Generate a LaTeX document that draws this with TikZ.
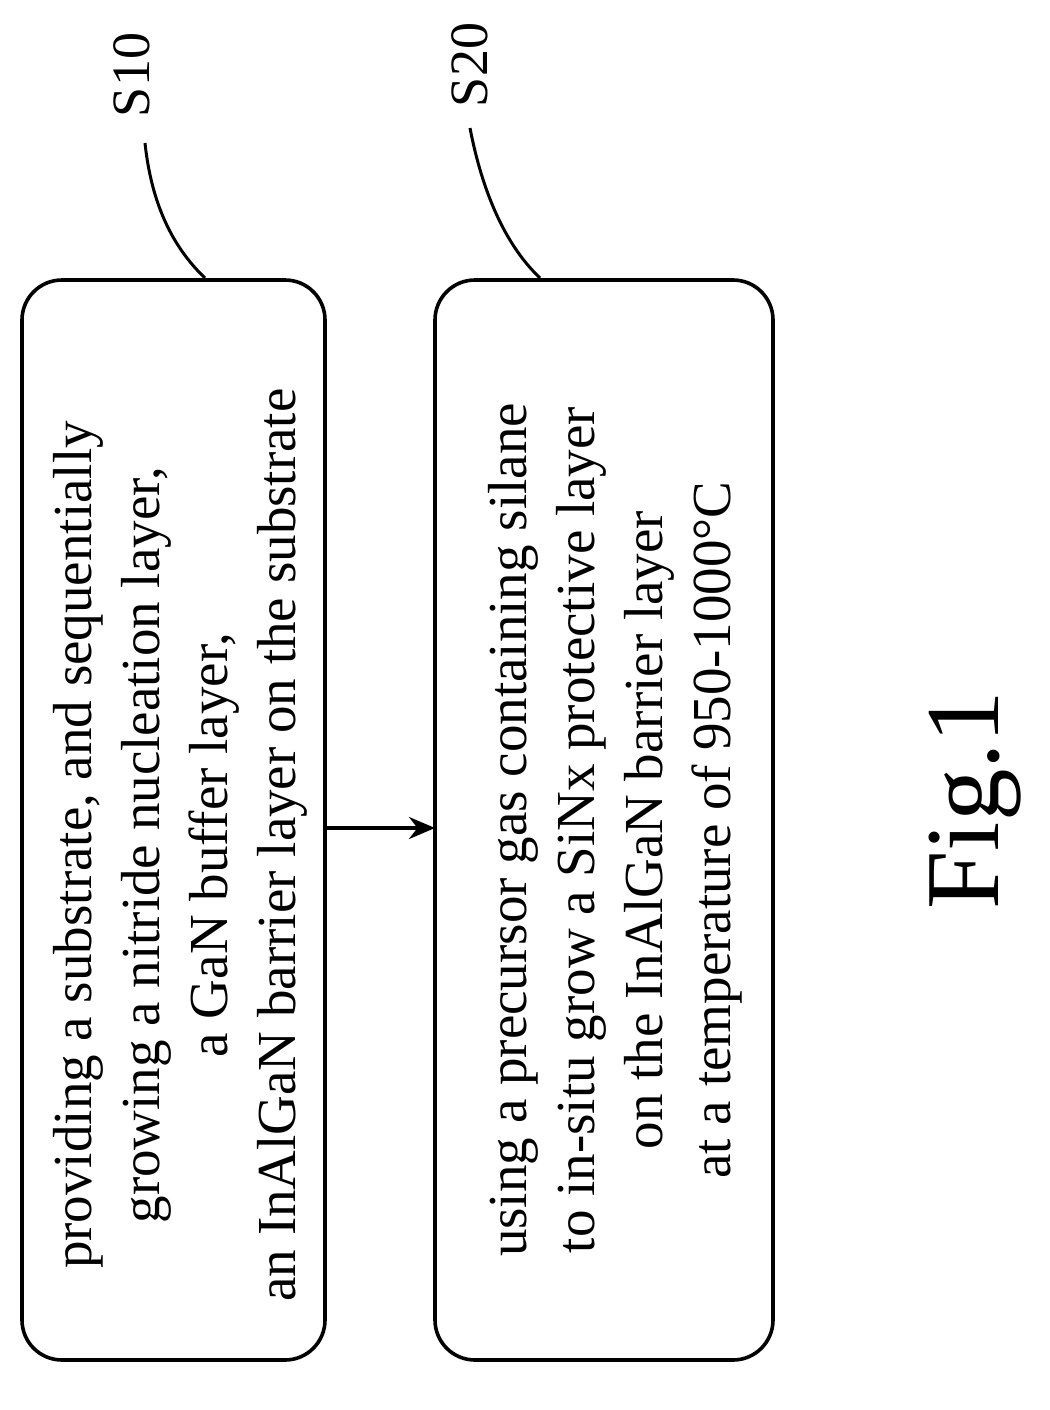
\documentclass[tikz,border=0pt]{standalone}
\usepackage{fontspec}
\setmainfont{Liberation Serif}
\usetikzlibrary{arrows.meta}
\begin{document}
\begin{tikzpicture}[x=1pt,y=-1pt,
  stepbox/.style={draw,line width=3.6pt,rounded corners=40pt},
  txt/.style={rotate=90,align=center,font=\fontsize{55}{68}\selectfont,inner sep=0},
  lbl/.style={rotate=90,font=\fontsize{54}{60}\selectfont,inner sep=0},
  lead/.style={line width=3pt}]
\useasboundingbox (0,0) rectangle (1049,1410);
\draw[stepbox] (22,280) rectangle (325,1360);
\draw[stepbox] (435,280) rectangle (773,1360);
\node[txt] (t1) at (180,845) {providing a substrate, and sequentially\\growing a nitride nucleation layer,\\a GaN buffer layer,\\an InAlGaN barrier layer on the substrate};
\node[txt] (t2) at (615,830) {using a precursor gas containing silane\\to in-situ grow a SiNx protective layer\\on the InAlGaN barrier layer\\at a temperature of 950-1000°C};
\coordinate (a1) at (325,828);
\coordinate (a2) at (435,828);
\draw[line width=3.6pt,-{Stealth[length=26pt,width=22pt]}] (a1) -- (a2);
\node[lbl] (s10) at (132,75) {S10};
\node[lbl] (s20) at (470,65) {S20};
\coordinate (c1a) at (205,278); \coordinate (c1b) at (145,143);
\coordinate (c2a) at (540,278); \coordinate (c2b) at (470,128);
\draw[lead] (c1a) .. controls (165,240) and (150,190) .. (c1b);
\draw[lead] (c2a) .. controls (500,240) and (480,180) .. (c2b);
\node[rotate=90,font=\fontsize{105}{110}\selectfont] (fig) at (975,800) {Fig.1};
\end{tikzpicture}
\end{document}
